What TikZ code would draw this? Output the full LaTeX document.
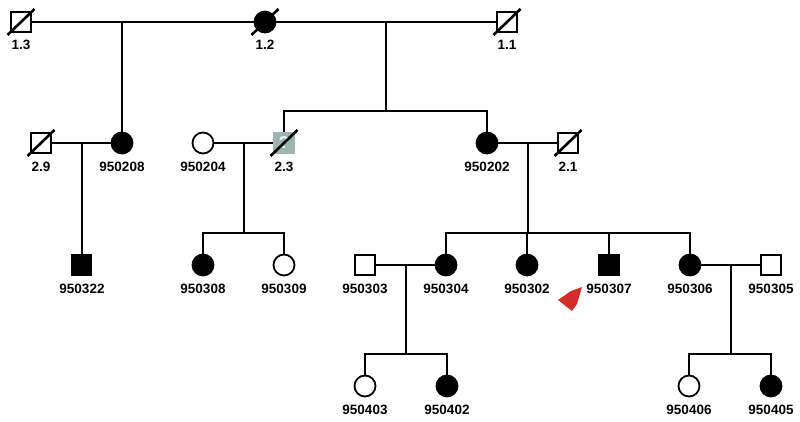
\documentclass[tikz,border=0pt]{standalone}
\usepackage{fontspec}
\setmainfont{Liberation Sans}
\usetikzlibrary{calc}
\definecolor{unkgray}{HTML}{9DB5B0}
\definecolor{arrowred}{HTML}{D42B2B}
\tikzset{
  person/.style={draw=black, line width=1.8pt, fill=white, inner sep=0pt},
  male/.style={person, rectangle, minimum size=20pt},
  female/.style={person, circle, minimum size=21pt},
  affected/.style={fill=black},
  unknown/.style={draw=none, fill=unkgray, minimum size=21.5pt},
  qmark/.style={text=white, inner sep=0pt, font=\bfseries\fontsize{17}{17}\selectfont},
  lab/.style={font=\bfseries\fontsize{13.5}{13.5}\selectfont, inner sep=0pt, anchor=center},
  link/.style={line width=2pt, line cap=rect},
  slash/.style={line width=2.6pt},
}
\newcommand{\deadmark}[1]{\draw[slash] ($(#1)+(-13.5,13)$) -- ($(#1)+(13.5,-13)$);}
\begin{document}
\begin{tikzpicture}[x=1pt,y=-1pt]
\useasboundingbox (0,0) rectangle (800,422);
% generation I
\node[male] (n13) at (21,22) {};
\node[female,affected] (n12) at (265,22) {};
\node[male] (n11) at (507,22) {};
% generation II
\node[male] (n29) at (41,143) {};
\node[female,affected] (n208) at (122,143) {};
\node[female] (n204) at (203,143) {};
\node[male,unknown] (n23) at (284,143) {};
\node[qmark] (q23) at (n23) {?};
\node[female,affected] (n202) at (487,143) {};
\node[male] (n21) at (568,143) {};
% generation III
\node[male,affected] (n322) at (81.5,265) {};
\node[female,affected] (n308) at (203,265) {};
\node[female] (n309) at (284,265) {};
\node[male] (n303) at (365,265) {};
\node[female,affected] (n304) at (446,265) {};
\node[female,affected] (n302) at (527,265) {};
\node[male,affected] (n307) at (609,265) {};
\node[female,affected] (n306) at (690,265) {};
\node[male] (n305) at (771,265) {};
% generation IV
\node[female] (n403) at (365,386) {};
\node[female,affected] (n402) at (447,386) {};
\node[female] (n406) at (689,386) {};
\node[female,affected] (n405) at (771,386) {};
% labels
\node[lab] (l13) at (21,45) {1.3};
\node[lab] (l12) at (265,45) {1.2};
\node[lab] (l11) at (507,45) {1.1};
\node[lab] (l29) at (41,167) {2.9};
\node[lab] (l208) at (122,167) {950208};
\node[lab] (l204) at (203,167) {950204};
\node[lab] (l23) at (284,167) {2.3};
\node[lab] (l202) at (487,167) {950202};
\node[lab] (l21) at (568,167) {2.1};
\node[lab] (l322) at (82,289) {950322};
\node[lab] (l308) at (203,289) {950308};
\node[lab] (l309) at (284,289) {950309};
\node[lab] (l303) at (365,289) {950303};
\node[lab] (l304) at (446,289) {950304};
\node[lab] (l302) at (527,289) {950302};
\node[lab] (l307) at (609,289) {950307};
\node[lab] (l306) at (690,289) {950306};
\node[lab] (l305) at (771,289) {950305};
\node[lab] (l403) at (365,410) {950403};
\node[lab] (l402) at (447,410) {950402};
\node[lab] (l406) at (689,410) {950406};
\node[lab] (l405) at (771,410) {950405};
% couple coordinates
\coordinate (c0) at ($(n23)!0.5!(n202)$);
\coordinate (c0x) at (c0 |- n12);
\coordinate (c1) at ($(n29)!0.5!(n208)$);
\coordinate (c2) at ($(n204)!0.5!(n23)$);
\coordinate (c3) at ($(n202)!0.5!(n21)$);
\coordinate (c4) at ($(n303)!0.5!(n304)$);
\coordinate (c5) at ($(n306)!0.5!(n305)$);
% generation I links
\draw[link] (n13) -- (n12);
\draw[link] (n12) -- (n11);
\draw[link] (n208 |- n12) -- (n208);
\draw[link] (c0x) -- (c0x |- 0,111);
\draw[link] (n23) -- (n23 |- 0,111) -- (n202 |- 0,111) -- (n202);
% generation II links
\draw[link] (n29) -- (n208);
\draw[link] (c1) -- (c1 |- n322.north);
\draw[link] (n204) -- (n23);
\draw[link] (c2) -- (c2 |- 0,233);
\draw[link] (n308) -- (n308 |- 0,233) -- (n309 |- 0,233) -- (n309);
\draw[link] (n202) -- (n21);
\draw[link] (c3) -- (c3 |- 0,233);
\draw[link] (n304) -- (n304 |- 0,233) -- (n306 |- 0,233) -- (n306);
\draw[link] (n302) -- (n302 |- 0,233);
\draw[link] (n307) -- (n307 |- 0,233);
% generation III links
\draw[link] (n303) -- (n304);
\draw[link] (c4) -- (c4 |- 0,354);
\draw[link] (n403) -- (n403 |- 0,354) -- (n402 |- 0,354) -- (n402);
\draw[link] (n306) -- (n305);
\draw[link] (c5) -- (c5 |- 0,354);
\draw[link] (n406) -- (n406 |- 0,354) -- (n405 |- 0,354) -- (n405);
% deceased marks
\deadmark{n13}
\deadmark{n12}
\deadmark{n11}
\deadmark{n29}
\deadmark{n23}
\deadmark{n21}
% proband arrow
\fill[arrowred] (558,300) -- (571,291) -- (582,287) -- (577,304) -- (572,311) -- cycle;
\end{tikzpicture}
\end{document}
